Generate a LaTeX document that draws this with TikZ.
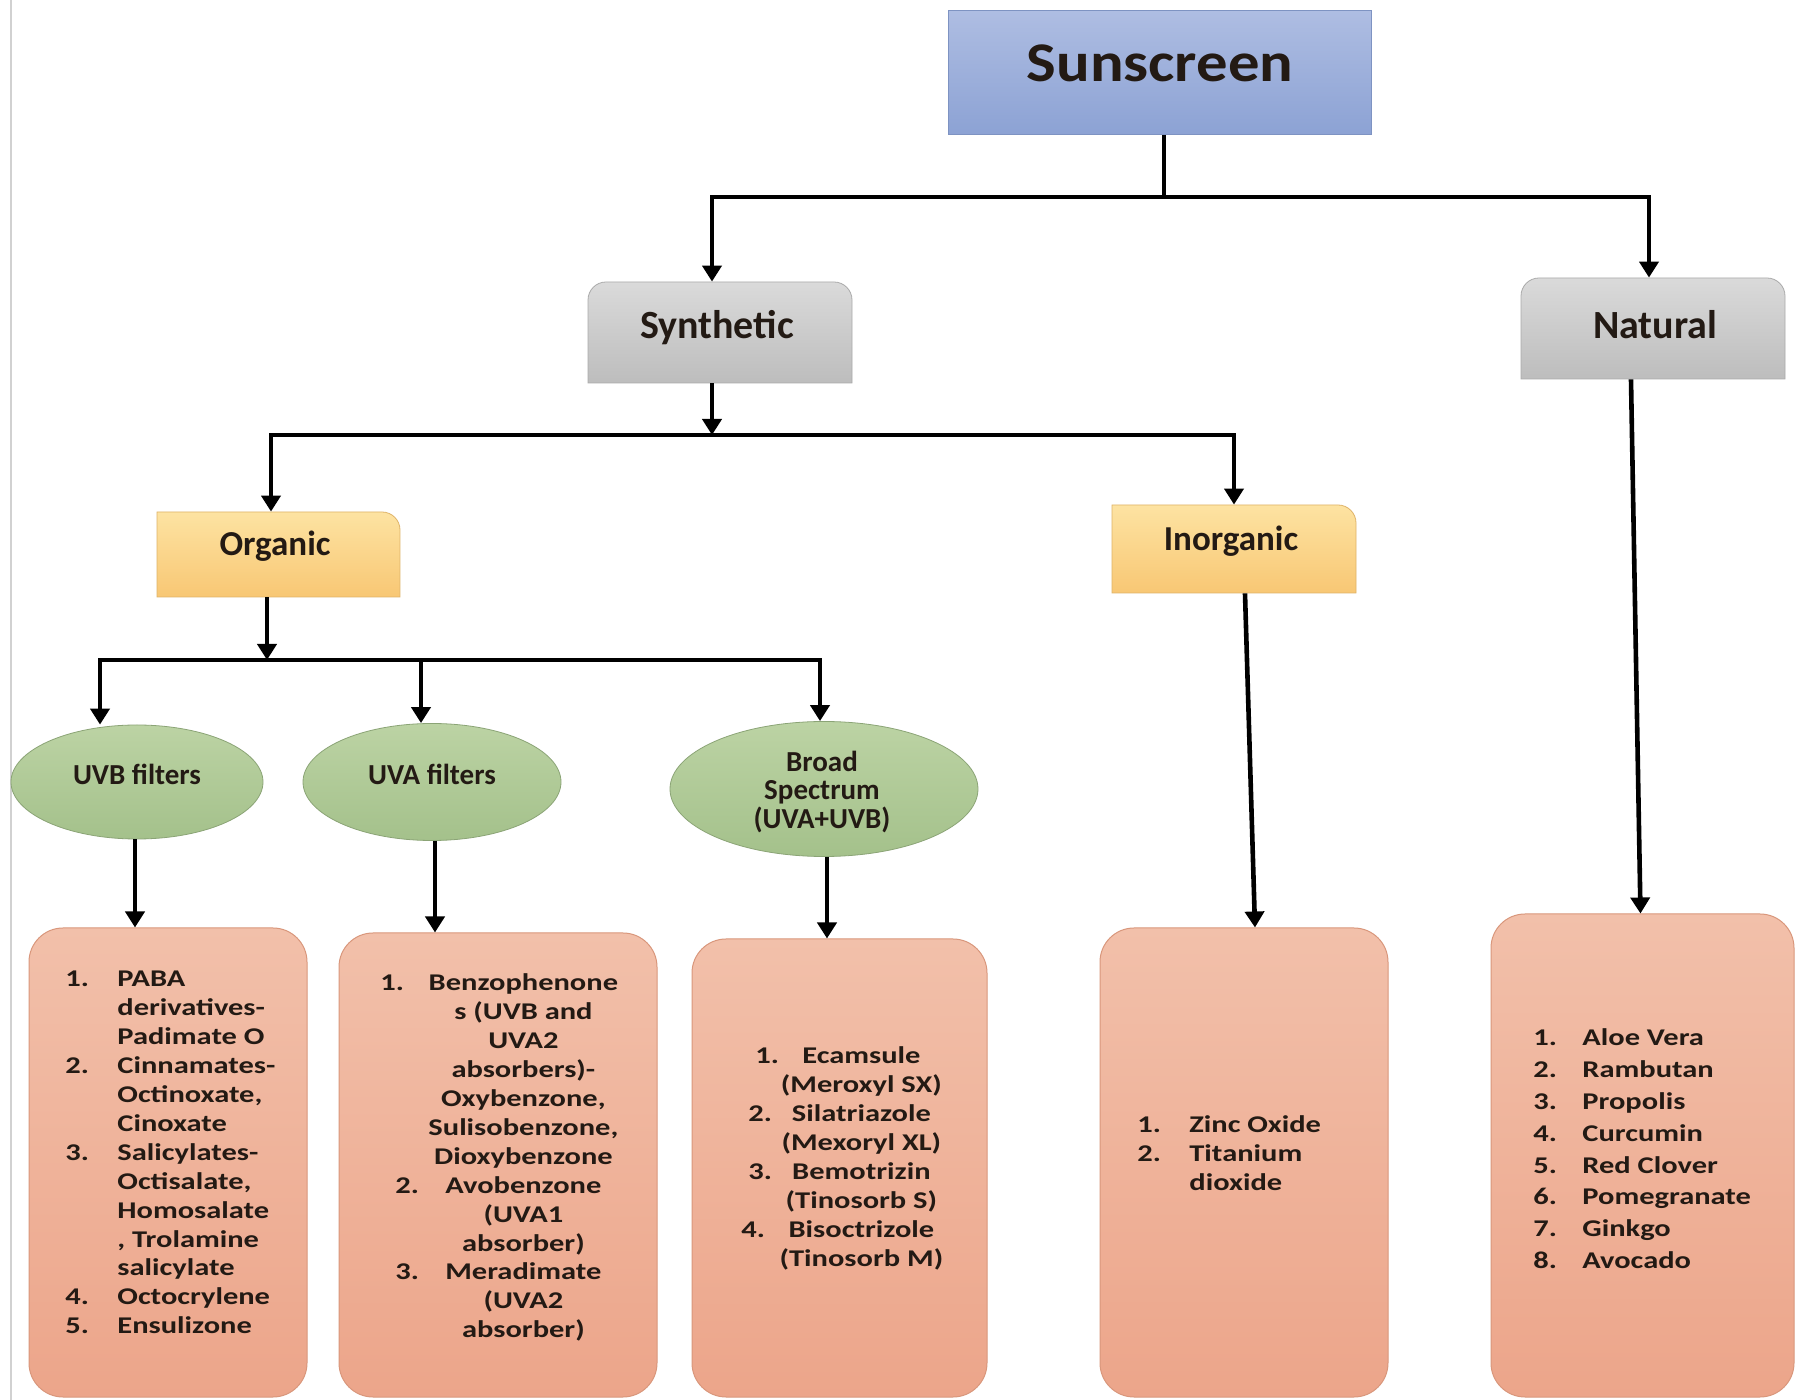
\documentclass[tikz,border=0pt]{standalone}
\usepackage{fontspec}
\usepackage{array}
\setmainfont{Carlito}
\newfontfamily\listfont{Carlito}[FakeStretch=1.27]
\newfontfamily\headfont{Carlito}[FakeStretch=1.12]
\usetikzlibrary{arrows.meta,shapes.geometric,calc}
\definecolor{sunT}{HTML}{AEBDE2}
\definecolor{sunB}{HTML}{8CA2D4}
\definecolor{sunD}{HTML}{7E93C2}
\definecolor{grayT}{HTML}{DADADA}
\definecolor{grayB}{HTML}{BDBDBD}
\definecolor{yelT}{HTML}{FDE3A2}
\definecolor{yelB}{HTML}{F8C774}
\definecolor{grnT}{HTML}{BCD3A4}
\definecolor{grnB}{HTML}{A4C18B}
\definecolor{salT}{HTML}{F2C0AA}
\definecolor{salB}{HTML}{ECA58A}
\definecolor{salD}{HTML}{D9977C}
\definecolor{txt}{HTML}{231A14}
\newcommand{\numat}[2]{\leavevmode\rlap{\hspace*{#1}#2}}
\tikzset{
  ln/.style={line width=2.3pt, black},
  arr/.style={line width=2.3pt, black, -{Triangle[width=9.5pt,length=8pt]}},
  anchorbox/.style={draw=none, inner sep=0pt, rectangle},
  ellbox/.style={ellipse, inner sep=0pt, top color=grnT, bottom color=grnB, draw=grnB!85!black, line width=0.4pt},
  salbox/.style={rectangle, rounded corners=17pt, inner sep=0pt, top color=salT, bottom color=salB, draw=salD, line width=0.5pt},
  lbl/.style={inner sep=0pt, text=txt, font=\bfseries},
  lst/.style={inner sep=0pt, text=txt, anchor=base west},
}
\begin{document}
\begin{tikzpicture}[x=0.5pt,y=-0.5pt]
\useasboundingbox (0,0) rectangle (1796,1400);
\fill[white] (0,0) rectangle (1796,1400);
\draw[line width=1.2pt, color=black!18] (11,0) -- (11,1400);

% Sunscreen
\node[rectangle, inner sep=0pt, minimum width=211.5pt, minimum height=62pt, top color=sunT, bottom color=sunB, draw=sunD, line width=0.5pt] (sun) at (1159.5,73) {};
\node[lbl] (sunL) at (1160,63) {\headfont\bfseries\fontsize{28}{30}\selectfont Sunscreen};

% Synthetic (top corners rounded)
\path[top color=grayT, bottom color=grayB, draw=grayB!90!black, line width=0.4pt]
  (588,383) [rounded corners=9pt] -- (588,282) -- (852,282) [sharp corners] -- (852,383) -- cycle;
\node[anchorbox, minimum width=132pt, minimum height=50.5pt] (syn) at (716,332.5) {};
\node[lbl] (synL) at (717,328) {\fontsize{20}{22}\selectfont Synthetic};

% Natural
\path[top color=grayT, bottom color=grayB, draw=grayB!90!black, line width=0.4pt]
  (1521,379) [rounded corners=9pt] -- (1521,278) -- (1785,278) [sharp corners] -- (1785,379) -- cycle;
\node[anchorbox, minimum width=132pt, minimum height=50.5pt] (nat) at (1649,328.5) {};
\node[lbl] (natL) at (1655,325) {\fontsize{20}{22}\selectfont Natural};

% Organic (top-right rounded)
\path[top color=yelT, bottom color=yelB, draw=yelB!90!black, line width=0.4pt]
  (157,597) -- (157,512) [rounded corners=9pt] -- (400,512) [sharp corners] -- (400,597) -- cycle;
\node[anchorbox, minimum width=121.5pt, minimum height=42.5pt] (org) at (271,554.5) {};
\node[lbl] (orgL) at (275,546) {\fontsize{17.5}{20}\selectfont Organic};

% Inorganic
\path[top color=yelT, bottom color=yelB, draw=yelB!90!black, line width=0.4pt]
  (1112,593) -- (1112,505) [rounded corners=9pt] -- (1356,505) [sharp corners] -- (1356,593) -- cycle;
\node[anchorbox, minimum width=122pt, minimum height=44pt] (inorg) at (1234,549) {};
\node[lbl] (inorgL) at (1231,541) {\fontsize{17.5}{20}\selectfont Inorganic};

% Ellipses
\node[ellbox, minimum width=126pt, minimum height=57pt] (uvb) at (137,782) {};
\node[lbl] (uvbL) at (137,774) {\fontsize{14.5}{16}\selectfont UVB filters};
\node[ellbox, minimum width=129pt, minimum height=58.5pt] (uva) at (432,782) {};
\node[lbl] (uvaL) at (432,774) {\fontsize{14.5}{16}\selectfont UVA filters};
\node[ellbox, minimum width=154pt, minimum height=67.5pt] (broad) at (824,789) {};
\node[inner sep=0pt, text=txt, align=center, font=\bfseries\fontsize{14.5}{14.25}\selectfont] (broadL) at (822,792) {Broad\\Spectrum\\(UVA+UVB)};

% Bottom boxes
\node[salbox, minimum width=139pt, minimum height=234.5pt] (b1) at (168,1162.5) {};
\node[salbox, minimum width=159pt, minimum height=232pt] (b2) at (498,1165) {};
\node[salbox, minimum width=147.5pt, minimum height=229pt] (b3) at (839.5,1168) {};
\node[salbox, minimum width=144pt, minimum height=234.5pt] (b4) at (1244,1162.5) {};
\node[salbox, minimum width=151.5pt, minimum height=241.5pt] (b5) at (1642.5,1155.5) {};

% Lists
\node[lst] (t1) at (65,987) {\listfont\bfseries\fontsize{12}{14.45}\selectfont
\begin{tabular}[t]{@{}p{26pt}@{}l@{}}
1. & PABA\\
   & derivatives-\\
   & Padimate O\\
2. & Cinnamates-\\
   & Octinoxate,\\
   & Cinoxate\\
3. & Salicylates-\\
   & Octisalate,\\
   & Homosalate\\
   & , Trolamine\\
   & salicylate\\
4. & Octocrylene\\
5. & Ensulizone
\end{tabular}};

\node[lst] (t2) at (380,991) {\listfont\bfseries\fontsize{12}{14.45}\selectfont
\begin{tabular}[t]{@{}p{21.5pt}@{}>{\centering\arraybackslash}p{100pt}@{}}
1. & Benzophenone\\
   & s (UVB and\\
   & UVA2\\
   & absorbers)-\\
   & Oxybenzone,\\
   & Sulisobenzone,\\
   & Dioxybenzone\\
\hspace*{7.5pt}2. & Avobenzone\\
   & (UVA1\\
   & absorber)\\
\hspace*{7.5pt}3. & Meradimate\\
   & (UVA2\\
   & absorber)
\end{tabular}};

\node[lst] (t3) at (741,1064) {\listfont\bfseries\fontsize{12}{14.5}\selectfont
\begin{tabular}[t]{@{}p{10pt}@{}>{\centering\arraybackslash}p{100pt}@{}}
\numat{7pt}{1.} & Ecamsule\\
   & (Meroxyl SX)\\
\numat{3.5pt}{2.} & Silatriazole\\
   & (Mexoryl XL)\\
\numat{3.5pt}{3.} & Bemotrizin\\
   & (Tinosorb S)\\
\numat{0pt}{4.} & Bisoctrizole\\
   & (Tinosorb M)
\end{tabular}};

\node[lst] (t4) at (1137,1133) {\listfont\bfseries\fontsize{12}{14.3}\selectfont
\begin{tabular}[t]{@{}p{26pt}@{}l@{}}
1. & Zinc Oxide\\
2. & Titanium\\
   & dioxide
\end{tabular}};

\node[lst] (t5) at (1533,1046) {\listfont\bfseries\fontsize{12}{15.9}\selectfont
\begin{tabular}[t]{@{}p{24.5pt}@{}l@{}}
1. & Aloe Vera\\
2. & Rambutan\\
3. & Propolis\\
4. & Curcumin\\
5. & Red Clover\\
6. & Pomegranate\\
7. & Ginkgo\\
8. & Avocado
\end{tabular}};

% Connectors
\coordinate (j1) at (1164,197);
\coordinate (j1l) at (712,197);
\coordinate (j1r) at (1649,197);
\draw[ln] (sun.south -| j1) -- (j1);
\draw[ln, line cap=rect] (j1l) -- (j1r);
\draw[arr] (j1l) -- (j1l |- syn.north);
\draw[arr] (j1r) -- (j1r |- nat.north);

\coordinate (j2) at (712,435);
\coordinate (j2l) at (271,435);
\coordinate (j2r) at (1234,435);
\draw[arr] (syn.south -| j2) -- (j2);
\draw[ln, line cap=rect] (j2l) -- (j2r);
\draw[arr] (j2l) -- (j2l |- org.north);
\draw[arr] (j2r) -- (j2r |- inorg.north);

\coordinate (j3) at (267,660);
\coordinate (j3l) at (100,660);
\coordinate (j3m) at (421,660);
\coordinate (j3r) at (820,660);
\draw[arr] (org.south -| j3) -- (j3);
\draw[ln, line cap=rect] (j3l) -- (j3r);
\draw[arr] (j3l) -- (j3l |- uvb.north);
\draw[arr] (j3m) -- (j3m |- uva.north);
\draw[arr] (j3r) -- (j3r |- broad.north);

\draw[arr] (uvb.south -| 135,0) -- (b1.north -| 135,0);
\draw[arr] (uva.south -| 435,0) -- (b2.north -| 435,0);
\draw[arr] (broad.south -| 827,0) -- (b3.north -| 827,0);
\draw[arr] ($(inorg.south)+(11,0)$) -- ($(b4.north)+(11,0)$);
\draw[arr] ($(nat.south)+(-18,0)$) -- ($(b5.north)+(-2,0)$);
\end{tikzpicture}
\end{document}
